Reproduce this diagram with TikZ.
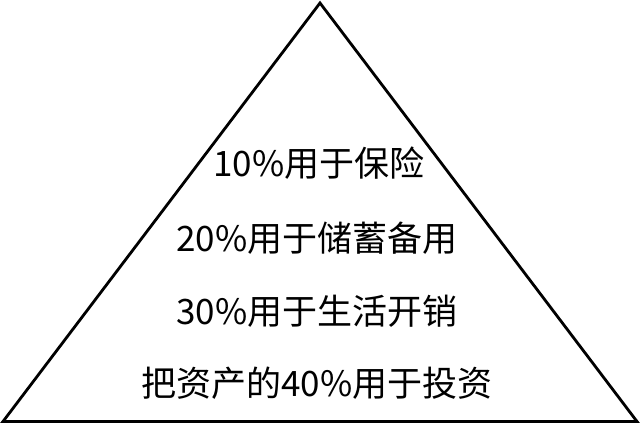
\documentclass[tikz,border=0pt]{standalone}
\usepackage{fontspec}
\newfontfamily\cjk{Noto Sans CJK SC}
\begin{document}
\begin{tikzpicture}[x=1pt,y=1pt,
  lbl/.style={font=\cjk\fontsize{35}{35}\selectfont, inner sep=0pt, anchor=center}]
\useasboundingbox (0,0) rectangle (640,425);
\fill[white] (0,0) rectangle (640,425);
\coordinate (apex) at (320,422);
\coordinate (bl) at (3,3.5);
\coordinate (br) at (637,3.5);
\draw[line width=2.8pt, line join=miter] (bl) -- (apex) -- (br) -- cycle;
\node[lbl] (t1) at (319,262) {10\%用于保险};
\node[lbl] (t2) at (317,187) {20\%用于储蓄备用};
\node[lbl] (t3) at (317,114) {30\%用于生活开销};
\node[lbl] (t4) at (317,42) {把资产的40\%用于投资};
\end{tikzpicture}
\end{document}
